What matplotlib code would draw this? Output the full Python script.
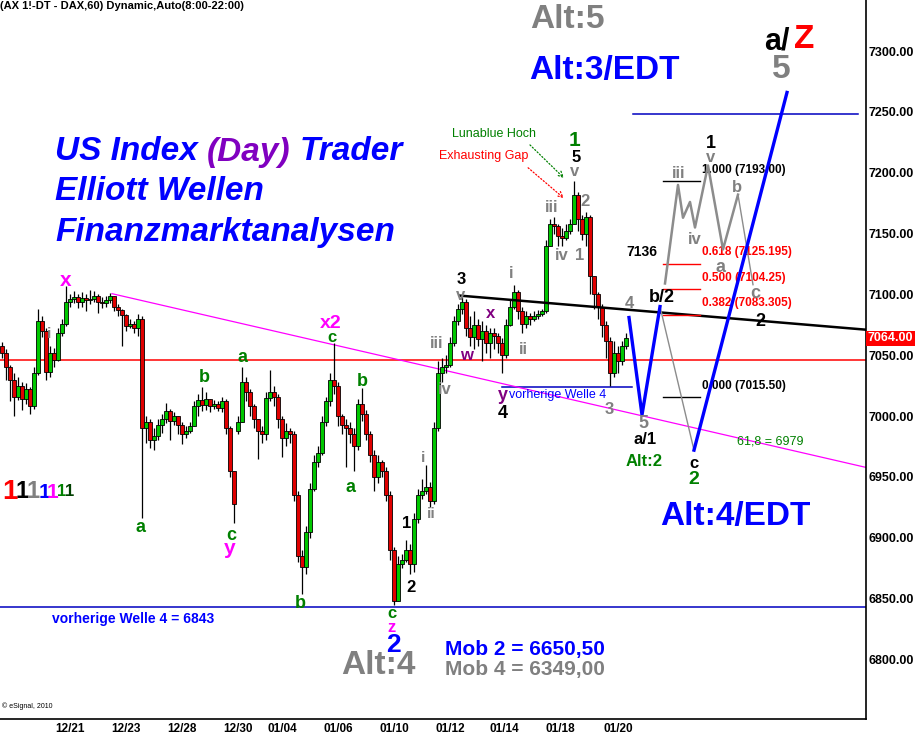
import matplotlib

# Agg backend, no display needed
matplotlib.use('Agg')
import matplotlib.pyplot as plt
import matplotlib.transforms as mtransforms
import numpy as np

plt.rcParams['font.family'] = ['Liberation Sans', 'DejaVu Sans']

# DAX future, 60 min bars (close / high / low)
closes = [
    7052, 7040, 7030, 7016, 7025, 7014, 7022, 7008, 7035, 7078,
    7070, 7036, 7052, 7046, 7068, 7076, 7094, 7096, 7098, 7094,
    7097, 7095, 7096, 7099, 7094, 7093, 7095, 7099, 7090, 7087,
    7083, 7074, 7076, 7072, 7080, 6990, 6995, 6980, 6984, 6993,
    6998, 7004, 6996, 7000, 6993, 6985, 6988, 6992, 7008, 7013,
    7009, 7014, 7008, 7010, 7007, 7012, 6990, 6955, 6928, 6995,
    7028, 7020, 7008, 6998, 6988, 6985, 7015, 7020, 7016, 6998,
    6982, 6988, 6985, 6935, 6885, 6876, 6905, 6940, 6962, 6970,
    6995, 7012, 7030, 7025, 7000, 6993, 6990, 6985, 6975, 7010,
    7002, 6985, 6968, 6950, 6962, 6955, 6935, 6890, 6848, 6878,
    6882, 6890, 6878, 6915, 6935, 6938, 6942, 6930, 6990, 7035,
    7040, 7042, 7060, 7078, 7088, 7094, 7072, 7065, 7075, 7063,
    7070, 7060, 7068, 7066, 7060, 7050, 7075, 7090, 7102, 7086,
    7076, 7082, 7080, 7082, 7084, 7086, 7140, 7158, 7156, 7148,
    7146, 7152, 7158, 7182, 7162, 7150, 7164, 7115, 7100, 7090,
    7075, 7062, 7035, 7052, 7045, 7058, 7064,
]
highs = [
    7061, 7055, 7042, 7035, 7032, 7028, 7027, 7024, 7040, 7088,
    7082, 7072, 7058, 7056, 7072, 7080, 7107, 7100, 7103, 7100,
    7102, 7100, 7104, 7103, 7100, 7098, 7099, 7101, 7098, 7092,
    7088, 7084, 7080, 7078, 7084, 7082, 7000, 6998, 6990, 6998,
    7002, 7011, 7006, 7003, 7000, 6995, 6992, 6995, 7012, 7018,
    7024, 7020, 7014, 7013, 7012, 7016, 7014, 6992, 6945, 7000,
    7040, 7032, 7022, 7010, 6998, 6992, 7020, 7038, 7025, 7018,
    7000, 6994, 6990, 6988, 6938, 6890, 6910, 6945, 6968, 6975,
    7000, 7016, 7035, 7060, 7028, 7002, 6998, 6995, 6990, 7014,
    7023, 7005, 6988, 6972, 6968, 6964, 6958, 6938, 6892, 6885,
    6887, 6898, 6895, 6920, 6940, 6948, 6960, 6946, 6995, 7045,
    7048, 7050, 7065, 7082, 7092, 7098, 7096, 7082, 7086, 7080,
    7078, 7075, 7072, 7072, 7068, 7064, 7080, 7096, 7108, 7104,
    7090, 7086, 7085, 7086, 7087, 7088, 7145, 7162, 7164, 7158,
    7155, 7158, 7162, 7193, 7184, 7165, 7168, 7165, 7115, 7102,
    7092, 7078, 7065, 7062, 7058, 7062, 7068,
]
lows = [
    7048, 7030, 7012, 7000, 7013, 7005, 7010, 7002, 7006, 7034,
    7065, 7030, 7032, 7040, 7045, 7066, 7074, 7090, 7093, 7089,
    7090, 7086, 7092, 7094, 7085, 7089, 7090, 7093, 7086, 7082,
    7058, 7070, 7072, 7068, 7066, 6916, 6978, 6974, 6972, 6980,
    6986, 6994, 6980, 6993, 6985, 6977, 6982, 6986, 6994, 7000,
    7004, 7005, 7003, 7006, 7004, 7003, 6985, 6950, 6912, 6985,
    6995, 7012, 7000, 6990, 6965, 6978, 6980, 7012, 7008, 6990,
    6966, 6975, 6978, 6930, 6880, 6854, 6870, 6900, 6938, 6958,
    6968, 6992, 7008, 7018, 6992, 6985, 6958, 6978, 6955, 6972,
    6996, 6980, 6962, 6938, 6945, 6950, 6930, 6882, 6845, 6850,
    6875, 6880, 6870, 6872, 6912, 6932, 6936, 6925, 6928, 6988,
    7028, 7035, 7040, 7058, 7075, 7084, 7066, 7058, 7055, 7058,
    7045, 7052, 7048, 7055, 7052, 7035, 7048, 7074, 7088, 7080,
    7068, 7072, 7075, 7078, 7080, 7082, 7085, 7140, 7150, 7140,
    7140, 7145, 7150, 7158, 7152, 7145, 7140, 7100, 7088, 7080,
    7065, 7048, 7025, 7032, 7035, 7042, 7055,
]
first_open = 7058
gap_opens = {59: 6988}   # new session after the year end gap

date_labels = ['12/21', '12/23', '12/28', '12/30', '01/04', '01/06',
               '01/10', '01/12', '01/14', '01/18', '01/20']
date_bars = [17, 31, 45, 59, 70, 84, 98, 112, 125.5, 139.5, 154]
price_ticks = [6800, 6850, 6900, 6950, 7000, 7050, 7100, 7150, 7200, 7250, 7300]

# drawn levels
red_level = 7046
prev_wave4 = 6843
top_level = 7248
wave4_level = 7024
black_trend = ([114.5, 216], [7099, 7071])
pink_trend = ([27.5, 216], [7100.6, 6957.8])

# fibonacci retracement
fib_ratios = [1.000, 0.618, 0.500, 0.382, 0.000]
fib_prices = [7193.00, 7125.195, 7104.25, 7083.305, 7015.50]
fib_colors = ['black', 'red', 'red', 'red', 'black']

# projections
blue_v = ([156.75, 160, 164.5], [7081, 7001, 7090])
gray_drop = ([164.5, 173], [7090, 6972])
blue_up = ([173, 196.25], [6972, 7266])
gray_wave = ([165.75, 169, 170.25, 172, 173.25, 176.5, 180.25, 184], [7109, 7190, 7163, 7176, 7155, 7206, 7137, 7182])
gray_c = ([184, 187.75], [7182, 7108])

GREEN = '#008000'
GRAY = '#808080'
PURPLE = '#800080'
MAGENTA = '#ff00ff'
BLUE = '#0000ff'

fig = plt.figure(figsize=(9.15, 7.38), dpi=100)
ax = fig.add_axes([0, 19 / 738, 866 / 915, 719 / 738])
ax.set_xlim(-0.5, 216)
ax.set_ylim(6751, 7342)

# pixel transform (origin top left) for the annotations
PIX = mtransforms.Affine2D().scale(1 / 100, -1 / 100).translate(0, 7.38) + fig.dpi_scale_trans

# candles
n = len(closes)
x = np.arange(n)
opens = [first_open] + closes[:-1]
for i, o in gap_opens.items():
    opens[i] = o
opens = np.array(opens, dtype=float)
c = np.array(closes, dtype=float)
lo = np.minimum(np.array(lows), np.minimum(opens, c))
hi = np.maximum(np.array(highs), np.maximum(opens, c))
ax.vlines(x, lo, hi, color='black', lw=0.9, zorder=3)
ax.bar(x, np.abs(c - opens), bottom=np.minimum(opens, c), width=0.8,
       color=np.where(c >= opens, '#00c800', '#e00000'),
       edgecolor='black', linewidth=0.6, zorder=4)

# lines
ax.axhline(red_level, color='red', lw=1.1, zorder=2)
ax.axhline(prev_wave4, color='#0000c0', lw=1.1, zorder=2)
ax.plot([157.75, 214], [top_level] * 2, color='#0000c0', lw=1.1)
ax.plot([125, 157.5], [wave4_level] * 2, color='#0000c0', lw=1.1, zorder=2)
ax.plot(*pink_trend, color=MAGENTA, lw=0.9, zorder=2)
ax.plot(*black_trend, color='black', lw=1.8, zorder=5)

for r, p, col in zip(fib_ratios, fib_prices, fib_colors):
    ax.plot([165.25, 174.5], [p, p], color=col, lw=1.0, zorder=5)
    s = f"{p:.3f}"
    if s.endswith('0'):
        s = s[:-1]
    ax.annotate(f"{r:.3f} ({s})", (175, p), xytext=(0, 4), textcoords='offset points',
                color=col, fontsize=8.5, fontweight='bold', va='bottom', ha='left')

ax.plot(*gray_wave, color='#8c8c8c', lw=1.8, zorder=5)
ax.plot(*gray_c, color='#8c8c8c', lw=1.0, zorder=5)
ax.plot(*gray_drop, color='#8c8c8c', lw=1.0, zorder=5)
ax.plot(*blue_v, color=BLUE, lw=2.4, zorder=6)
ax.plot(*blue_up, color=BLUE, lw=2.4, zorder=6)

# axes styling
for side in ['top', 'left']:
    ax.spines[side].set_visible(False)
ax.spines['right'].set_linewidth(1.2)
ax.spines['bottom'].set_linewidth(1.2)
ax.yaxis.tick_right()
ax.set_yticks(price_ticks)
ax.set_yticklabels([f"{p:.2f}" for p in price_ticks], fontsize=9, fontweight='bold')
ax.set_xticks(date_bars)
ax.set_xticklabels(date_labels, fontsize=8.5, fontweight='bold')
ax.tick_params(axis='y', length=0, pad=2)
ax.tick_params(axis='x', length=0, pad=3)

# last price box
ax.text(1.002, closes[-1], f"{closes[-1]:.2f}", transform=ax.get_yaxis_transform(),
        color='white', fontsize=9, fontweight='bold', va='center', ha='left',
        bbox=dict(facecolor='red', edgecolor='none', pad=1.2))


def t(xp, yp, s, color='black', size=12, weight='bold', ha='center', style='normal'):
    return fig.text(xp, yp, s, transform=PIX, color=color, fontsize=size, fontweight=weight,
                    ha=ha, va='center', style=style)


t(0, 6, '(AX 1!-DT - DAX,60) Dynamic,Auto(8:00-22:00)', size=8, ha='left')
t(2, 706, '© eSignal, 2010', size=5, weight='normal', ha='left')

# headline with coloured middle word, pieces laid out one after another
renderer = fig.canvas.get_renderer()
xp = 55
for word, col in [('US Index', BLUE), ('(Day)', '#8000c0'), ('Trader', BLUE)]:
    tx = t(xp, 152, word, col, 24, ha='left', style='italic')
    xp += tx.get_window_extent(renderer).width + 9
t(55, 192, 'Elliott Wellen', BLUE, 24, ha='left', style='italic')
t(55, 232, 'Finanzmarktanalysen', BLUE, 24, ha='left', style='italic')

t(567, 20, 'Alt:5', GRAY, 24)
t(604, 71, 'Alt:3/EDT', BLUE, 24)
t(777, 41, 'a/', 'black', 22)
t(804, 40, 'Z', 'red', 24)
t(781, 70, '5', GRAY, 24)
t(735, 517, 'Alt:4/EDT', BLUE, 24)
t(378, 665, 'Alt:4', GRAY, 24)
t(445, 650, 'Mob 2 = 6650,50', BLUE, 15, ha='left')
t(445, 669, 'Mob 4 = 6349,00', GRAY, 15, ha='left')
t(52, 619, 'vorherige Welle 4 = 6843', BLUE, 10, ha='left')
t(642, 252, '7136', 'black', 10)
t(737, 442, '61,8 = 6979', GREEN, 9, weight='normal', ha='left')
t(452, 134, 'Lunablue Hoch', GREEN, 9, weight='normal', ha='left')
t(439, 156, 'Exhausting Gap', 'red', 9, weight='normal', ha='left')
t(509, 395, 'vorherige Welle 4', BLUE, 9, weight='normal', ha='left')

ax.annotate('', xy=(566, 180), xytext=(528, 143), xycoords=PIX, textcoords=PIX,
            arrowprops=dict(arrowstyle='->', color='green', linestyle=':', lw=0.9))
ax.annotate('', xy=(566, 200), xytext=(526, 166), xycoords=PIX, textcoords=PIX,
            arrowprops=dict(arrowstyle='->', color='red', linestyle=':', lw=0.9))

# colored "1" row
ones = [(10, 'red', 20), (22, 'black', 17), (33, 'gray', 17), (44, BLUE, 15),
        (53, MAGENTA, 15), (62, GREEN, 12), (70, '#004000', 12)]
for xp, col, sz in ones:
    t(xp, 492, '1', col, sz)

labels = [
    (66, 281, 'x', MAGENTA, 15), (49, 334, 'i', GRAY, 11),
    (141, 528, 'a', GREEN, 13), (204, 378, 'b', GREEN, 13),
    (243, 357, 'a', GREEN, 13), (231, 535, 'c', GREEN, 13),
    (230, 549, 'y', MAGENTA, 15), (300, 604, 'b', GREEN, 13),
    (331, 324, 'x2', MAGENTA, 14), (332, 338, 'c', GREEN, 12),
    (362, 382, 'b', GREEN, 13), (351, 487, 'a', GREEN, 13),
    (392, 613, 'c', GREEN, 12), (392, 627, 'z', MAGENTA, 12),
    (393, 645, '2', BLUE, 19),
    (407, 523, '1', 'black', 12), (411, 588, '2', 'black', 12),
    (423, 458, 'i', GRAY, 11), (431, 514, 'ii', GRAY, 11),
    (437, 343, 'iii', GRAY, 12), (445, 389, 'iv', GRAY, 12),
    (461, 279, '3', 'black', 12), (461, 296, 'v', GRAY, 12),
    (466, 355, 'w', PURPLE, 12), (491, 313, 'x', PURPLE, 12),
    (503, 395, 'y', PURPLE, 13), (503, 413, '4', 'black', 13),
    (511, 273, 'i', GRAY, 12), (523, 349, 'ii', GRAY, 12),
    (552, 208, 'iii', GRAY, 12), (562, 255, 'iv', GRAY, 12),
    (580, 255, '1', GRAY, 12), (585, 202, '2', GRAY, 12),
    (574, 141, '1', GREEN, 15), (576, 158, '5', 'black', 12),
    (575, 172, 'v', GRAY, 12), (609, 409, '3', GRAY, 12),
    (629, 303, '4', GRAY, 12), (643, 424, '5', GRAY, 13),
    (645, 440, 'a/1', 'black', 12), (644, 461, 'Alt:2', GREEN, 12),
    (694, 463, 'c', 'black', 12), (694, 479, '2', GREEN, 14),
    (662, 298, 'b/2', 'black', 13),
    (679, 174, 'iii', GRAY, 12), (695, 240, 'iv', GRAY, 12),
    (711, 143, '1', 'black', 13), (711, 157, 'v', GRAY, 12),
    (721, 268, 'a', GRAY, 13), (737, 187, 'b', GRAY, 12),
    (755, 293, 'c', GRAY, 13), (760, 321, '2', 'black', 13),
]
for xp, yp, s, col, sz in labels:
    t(xp, yp, s, col, sz)

plt.savefig('out.png', dpi=100)
